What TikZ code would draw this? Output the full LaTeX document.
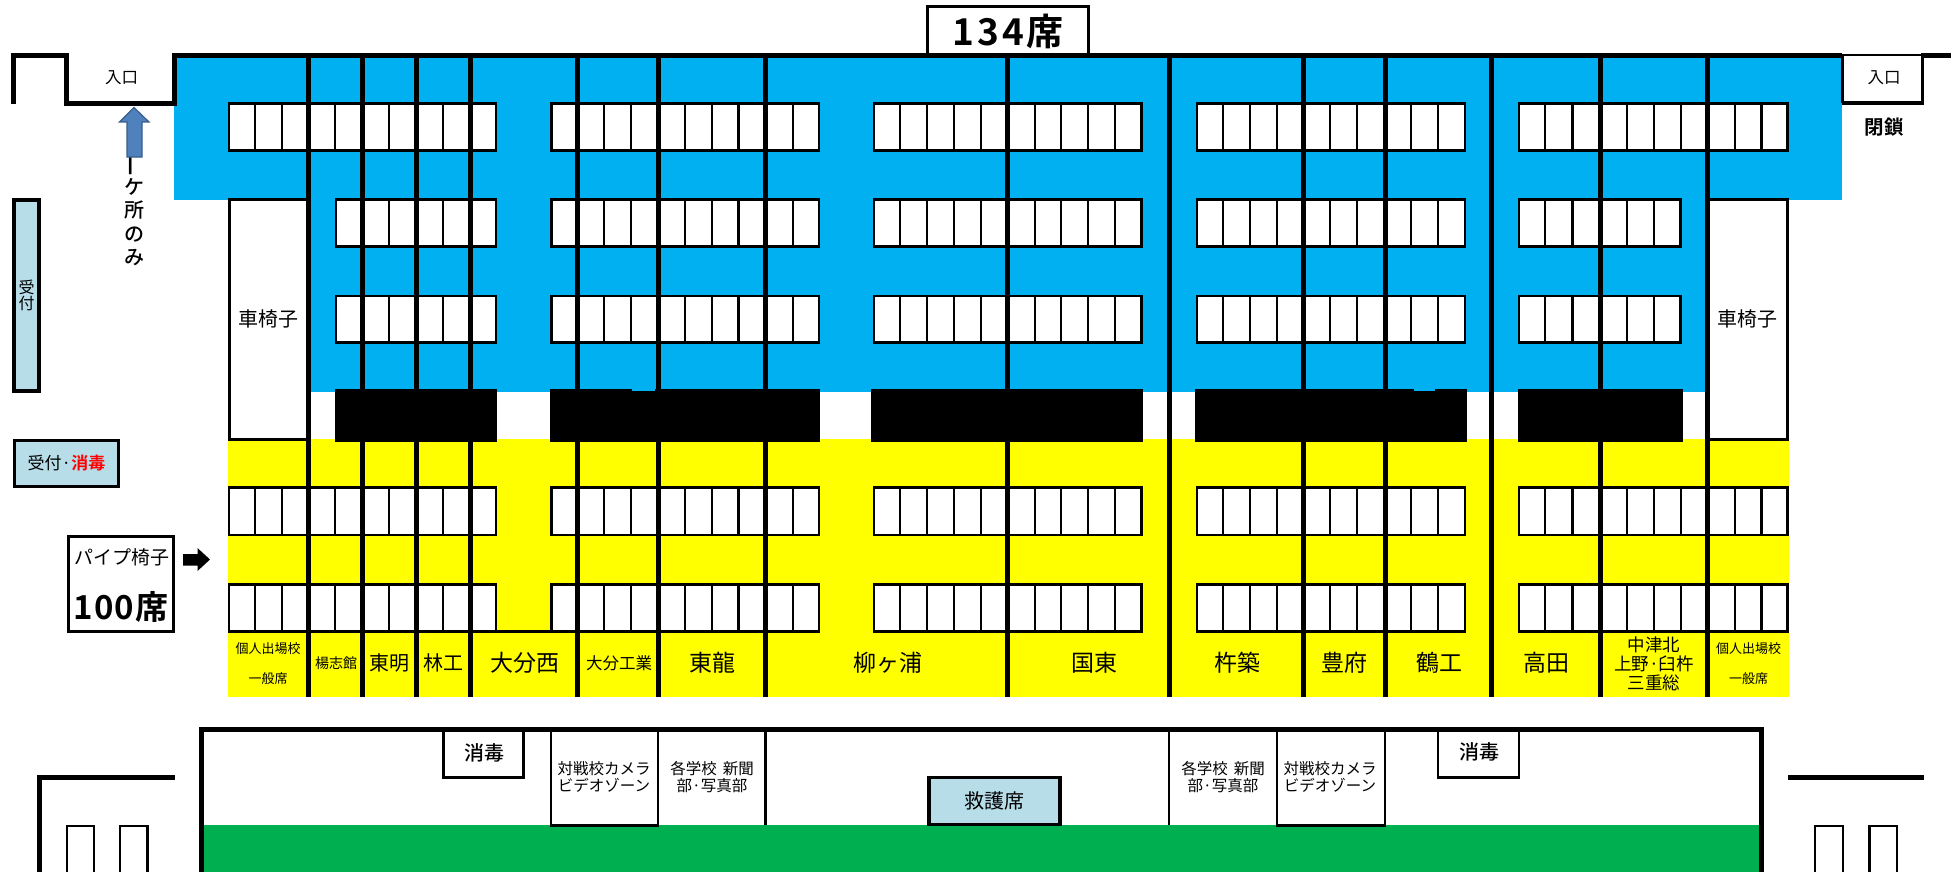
\documentclass[tikz,border=0pt]{standalone}
\usepackage{fontspec}
\setmainfont{Noto Sans CJK JP}
\newfontfamily\medcjk{Noto Sans CJK JP Medium}
\newfontfamily\boldcjk{Noto Sans CJK JP Bold}
\definecolor{hallblue}{HTML}{00B0F0}
\definecolor{standyellow}{HTML}{FFFF00}
\definecolor{courtgreen}{HTML}{00B050}
\definecolor{paleblue}{HTML}{B7DDE8}
\definecolor{arrowblue}{HTML}{4F81BD}
\definecolor{arrowedge}{HTML}{385D8A}
\newcommand{\fsz}[1]{\fontsize{#1}{#1}\selectfont}
\tikzset{
  lbl/.style={inner sep=0pt,outer sep=0pt,align=center,text=black},
  wall/.style={line width=5pt,line cap=butt,line join=miter},
  divider/.style={line width=5pt},
  seatline/.style={line width=2.5pt},
  seatbox/.style={draw=black,fill=white,line width=2.5pt},
  palebox/.style={draw=black,fill=paleblue,line width=3.5pt},
}
% seat row: y top, y bottom, list of x
\newcommand{\seatrow}[3]{%
  \foreach \xa/\xb in #3 {\draw[seatbox] (\xa,#1) rectangle (\xb,#2);}%
}
\begin{document}
\begin{tikzpicture}[x=1pt,y=-1pt]
\useasboundingbox (0,0) rectangle (1951,872);
% colour bands
\fill[hallblue] (174,56) rectangle (1842,200);
\fill[hallblue] (308,200) rectangle (1708,392);
\fill[standyellow] (228,439) rectangle (1789,697);
% black bands
\fill[black] (335,389) rectangle (497,442);
\fill[black] (550,389) rectangle (820,442);
\fill[black] (871,389) rectangle (1143,442);
\fill[black] (1195,389) rectangle (1467,442);
\fill[black] (1518,389) rectangle (1683,442);
\fill[hallblue] (632,389) rectangle (655,391);
\fill[hallblue] (1414,389) rectangle (1435,391);
% wheelchair boxes
\draw[seatbox,line width=3pt] (229,199.5) rectangle (308,439.5);
\draw[seatbox,line width=3pt] (1707,199.5) rectangle (1787.5,439.5);
% seats
\def\groupA{229/255,255/282,282/308.5,308.5/335,335/362.5,362.5/389,389/416,416/443,443/470,470/496}
\def\groupAs{336/362.5,362.5/389,389/416,416/443,443/470,470/496}
\def\groupB{551.5/577.5,577.5/604,604/631,631/658,658/685,685/712,712/738.5,738.5/765.5,765.5/793,793/819}
\def\groupC{874/900,900/927,927/954,954/981,981/1007,1007/1035,1035/1061,1061/1088,1088/1115,1115/1141.5}
\def\groupD{1197/1223,1223/1250,1250/1277,1277/1304,1304/1330,1330/1357,1357/1385,1385/1411,1411/1438,1438/1465}
\def\groupE{1519/1545,1545/1572.5,1572.5/1600,1600/1627,1627/1654,1654/1681,1681/1707.5,1707.5/1735,1735/1761.5,1761.5/1787.5}
\def\groupEs{1519/1545,1545/1572.5,1572.5/1600,1600/1627,1627/1654,1654/1680.5}
\seatrow{103.5}{150.5}{\groupA}
\seatrow{103.5}{150.5}{\groupB}
\seatrow{103.5}{150.5}{\groupC}
\seatrow{103.5}{150.5}{\groupD}
\seatrow{103.5}{150.5}{\groupE}
\foreach \ya/\yb in {199.5/246.5,296/342.5}{
  \seatrow{\ya}{\yb}{\groupAs}
  \seatrow{\ya}{\yb}{\groupB}
  \seatrow{\ya}{\yb}{\groupC}
  \seatrow{\ya}{\yb}{\groupD}
  \seatrow{\ya}{\yb}{\groupEs}
}
\foreach \ya/\yb in {487.5/535,584.5/631.5}{
  \seatrow{\ya}{\yb}{\groupA}
  \seatrow{\ya}{\yb}{\groupB}
  \seatrow{\ya}{\yb}{\groupC}
  \seatrow{\ya}{\yb}{\groupD}
  \seatrow{\ya}{\yb}{\groupE}
}
\draw[seatline] (497,631.5) -- (550.5,631.5);
% dividers
\foreach \x in {308.5,362.5,416.5,470.5,577.5,658,765.5,1007,1169,1303.5,1385,1491.5,1600,1707.5}
  \draw[divider] (\x,55) -- (\x,697);
% top walls
\draw[wall] (13.5,104) -- (13.5,55.5) -- (66.5,55.5) -- (66.5,103.5) -- (174.5,103.5) -- (174.5,55.5) -- (1842,55.5);
\draw[line width=3pt] (1842,55) -- (1842,103.5);
\draw[line width=2.5pt] (1842,55) -- (1922,55);
\draw[line width=4pt] (1842,103.5) -- (1924,103.5);
\draw[line width=3pt] (1922,55) -- (1922,105);
\draw[wall] (1921,55.5) -- (1951,55.5);
% 134 seats
\node[draw=black,fill=white,line width=3pt,minimum width=161pt,minimum height=48pt,inner sep=0pt] (seats134) at (1008,31) {\boldcjk\fsz{37}1\kern3pt 3\kern3pt 4\kern2pt 席};
% entrances
\node[lbl] (entL) at (121.5,78) {\fsz{16.5}入口};
\node[lbl] (entR) at (1884,78) {\fsz{16.5}入口};
\node[lbl] (closed) at (1884,127) {\boldcjk\fsz{19.5}閉鎖};
% one-place text and arrow
\node[lbl,anchor=north,font=\medcjk\fontsize{20}{23.5}\selectfont] (onlyone) at (134,170.5) {\smash{\boldcjk\rotatebox[origin=c]{90}{一}}\\ケ\\所\\の\\み};
\draw[fill=arrowblue,draw=arrowedge,line width=1.2pt] (134,107.5) -- (149,122) -- (142,122) -- (142,157) -- (127,157) -- (127,122) -- (119.5,122) -- cycle;
% reception
\node[palebox,line width=4pt,minimum width=25pt,minimum height=191pt,inner sep=0pt] (recv) at (26.5,295.5) {};
\node[lbl] (recvT) at (26.5,295.5) {\fsz{16}受\\[1pt]\fsz{16}付};
\node[palebox,line width=3pt,minimum width=104pt,minimum height=46pt,inner sep=0pt] (recv2) at (66.5,463) {\fsz{17}受付·\textcolor{red}{\boldcjk 消毒}};
% pipe chairs
\node[draw=black,fill=white,line width=3pt,minimum width=105pt,minimum height=95pt,inner sep=0pt] (pipebox) at (120.5,583.5) {};
\node[lbl] (pipeT) at (121.5,557.5) {\fsz{19}パイプ椅子};
\node[lbl] (pipeN) at (121,606.5) {\boldcjk\fsz{33}1\kern1pt 0\kern1pt 0\kern1pt 席};
\fill[black] (183,554) -- (197.5,554) -- (197.5,548) -- (210,559.5) -- (197.5,571) -- (197.5,565.5) -- (183,565.5) -- cycle;
% wheelchair labels
\node[lbl] (wcL) at (268,318.5) {\fsz{20}車椅子};
\node[lbl] (wcR) at (1747.5,318.5) {\fsz{20}車椅子};
% school labels
\node[lbl] (ind1) at (268,649) {\fsz{13}個人出場校};
\node[lbl] (gen1) at (268,679) {\fsz{13}一般席};
\node[lbl] (s1) at (336,663) {\fsz{14}楊志館};
\node[lbl] (s2) at (389.5,663) {\fsz{20}東明};
\node[lbl] (s3) at (443,663) {\fsz{20}林工};
\node[lbl] (s4) at (524.5,663) {\fsz{23}大分西};
\node[lbl] (s5) at (619,663) {\fsz{16.5}大分工業};
\node[lbl] (s6) at (712.5,663) {\fsz{23}東龍};
\node[lbl] (s7) at (887.5,663) {\fsz{23}柳ヶ浦};
\node[lbl] (s8) at (1094.5,663) {\fsz{23}国東};
\node[lbl] (s9) at (1237.5,663) {\fsz{23}杵築};
\node[lbl] (s10) at (1344,663) {\fsz{23}豊府};
\node[lbl] (s11) at (1439,663) {\fsz{23}鶴工};
\node[lbl] (s12) at (1546,663) {\fsz{23}高田};
\node[lbl] (s13a) at (1654,645) {\fsz{17.5}中津北};
\node[lbl] (s13b) at (1654,664) {\fsz{17.5}上野·臼杵};
\node[lbl] (s13c) at (1654,683) {\fsz{17.5}三重総};
\node[lbl] (ind2) at (1748.5,649) {\fsz{13}個人出場校};
\node[lbl] (gen2) at (1748.5,679) {\fsz{13}一般席};
% court
\fill[courtgreen] (204,825) rectangle (1759,872);
\draw[line width=2.5pt] (551,729) rectangle (658,825.5);
\draw[line width=2.5pt] (1277,729) rectangle (1385,825.5);
\draw[line width=2.5pt] (765.5,729) -- (765.5,825);
\draw[line width=2.5pt] (1169,729) -- (1169,825);
\draw[line width=2.5pt] (443.5,729) -- (443.5,777.5) -- (523.5,777.5) -- (523.5,729);
\draw[line width=2.5pt] (1438,729) -- (1438,777.5) -- (1519,777.5) -- (1519,729);
\draw[wall,line width=5.5pt] (201.5,872) -- (201.5,729.5) -- (1761.5,729.5) -- (1761.5,872);
\node[palebox,minimum width=131pt,minimum height=47pt,inner sep=0pt] (rescue) at (994.5,801) {\fsz{20}救護席};
\node[lbl] (dis1) at (484,752.5) {\medcjk\fsz{20}消毒};
\node[lbl] (dis2) at (1479.5,752) {\medcjk\fsz{20}消毒};
\node[lbl] (cam1) at (604,777) {\fsz{15.5}対戦校カメラ\\[1.5pt]\fsz{15.5}ビデオゾーン};
\node[lbl] (cam2) at (1330,777) {\fsz{15.5}対戦校カメラ\\[1.5pt]\fsz{15.5}ビデオゾーン};
\node[lbl] (news1) at (712,777) {\fsz{15.5}各学校\hspace{6pt}新聞\\[1.5pt]\fsz{15.5}部·写真部};
\node[lbl] (news2) at (1223,777) {\fsz{15.5}各学校\hspace{6pt}新聞\\[1.5pt]\fsz{15.5}部·写真部};
% side structures
\draw[wall] (175,777) -- (39.5,777) -- (39.5,872);
\draw[wall] (1788,777.5) -- (1924,777.5);
\draw[line width=2.5pt] (67,872) -- (67,826) -- (94,826) -- (94,872);
\draw[line width=2.5pt] (120,872) -- (120,826) -- (147.5,826) -- (147.5,872);
\draw[line width=2.5pt] (1815,872) -- (1815,826) -- (1843,826) -- (1843,872);
\draw[line width=2.5pt] (1869.5,872) -- (1869.5,826) -- (1897,826) -- (1897,872);
\end{tikzpicture}
\end{document}
